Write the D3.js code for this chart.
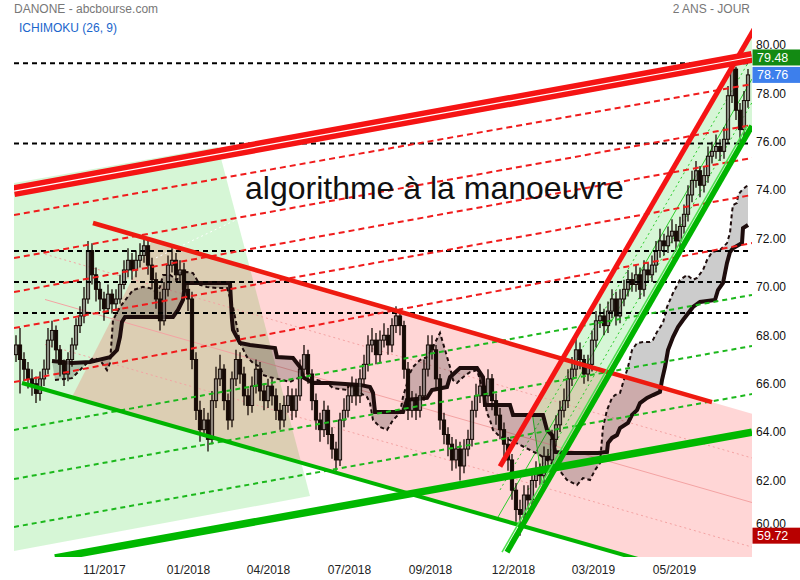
<!DOCTYPE html>
<html><head><meta charset="utf-8">
<script src="https://cdn.jsdelivr.net/npm/d3@7"></script>
<style>body{margin:0;background:#fff}svg{display:block;font-family:"Liberation Sans",Arial,sans-serif}</style>
</head><body><svg id="c" width="800" height="580"></svg>
<script>
// ---- DATA (bar index = aggregated trading periods, price in EUR) ----
const closes = [67.6,67.0,66.6,66.2,66.0,65.6,66.2,66.6,67.8,68.2,
 67.4,66.8,66.4,67.0,67.6,68.4,68.8,69.5,71.5,70.5,
 69.9,69.5,69.1,69.7,69.3,69.5,70.1,70.7,71.1,70.7,
 71.1,71.3,71.7,70.9,70.3,69.5,68.6,69.9,70.9,71.1,
 70.5,70.7,69.9,69.5,67.0,64.9,64.1,64.5,63.7,65.3,
 66.2,66.6,65.3,64.5,66.2,67.0,66.4,65.5,65.1,65.9,
 66.6,65.7,65.3,65.9,65.5,64.9,64.5,65.1,65.5,64.9,
 65.5,66.6,67.2,66.4,65.3,64.5,64.1,64.9,63.9,63.3,
 62.85,64.5,64.9,65.5,65.9,65.5,66.2,66.8,67.6,67.8,
 67.2,67.8,68.0,67.6,68.4,68.8,68.4,66.6,64.9,65.3,
 64.9,65.5,66.6,67.6,67.4,66.2,64.5,63.9,63.5,62.85,
 63.3,62.6,63.3,63.7,64.9,65.5,65.9,65.5,66.2,65.3,
 64.7,64.1,63.5,62.85,61.6,60.8,60.6,61.4,61.2,62.0,
 62.4,62.2,63.0,62.85,63.7,64.3,64.9,65.3,66.2,66.6,
 67.4,67.0,66.4,66.8,67.8,68.6,68.8,68.4,69.0,69.5,
 68.8,69.5,69.9,70.3,70.1,70.5,69.9,70.7,70.5,70.9,
 71.5,71.9,71.7,72.1,72.3,71.9,72.5,73.0,73.8,74.4,
 74.8,74.2,74.6,75.4,75.6,75.8,75.6,76.1,77.9,79.0,
 77.3,76.5,77.7,78.76];
const opens = [67.2,67.6,67.0,66.6,66.2,66.0,65.6,66.2,66.6,67.8,
 68.2,67.4,66.8,66.4,67.0,67.6,68.4,68.8,69.5,71.5,
 70.5,69.9,69.5,69.1,69.7,69.3,69.5,70.1,70.7,71.1,
 70.7,71.1,71.3,71.7,70.9,70.3,69.5,68.6,69.9,70.9,
 71.1,70.5,70.7,69.9,69.5,67.0,64.9,64.1,64.5,63.7,
 65.3,66.2,66.6,65.3,64.5,66.2,67.0,66.4,65.5,65.1,
 65.9,66.6,65.7,65.3,65.9,65.5,64.9,64.5,65.1,65.5,
 64.9,65.5,66.6,67.2,66.4,65.3,64.5,64.1,64.9,63.9,
 63.3,62.85,64.5,64.9,65.5,65.9,65.5,66.2,66.8,67.6,
 67.8,67.2,67.8,68.0,67.6,68.4,68.8,68.4,66.6,64.9,
 65.3,64.9,65.5,66.6,67.6,67.4,66.2,64.5,63.9,63.5,
 62.85,63.3,62.6,63.3,63.7,64.9,65.5,65.9,65.5,66.2,
 65.3,64.7,64.1,63.5,62.85,61.6,60.8,60.6,61.4,61.2,
 62.0,62.4,62.2,63.0,62.85,63.7,64.3,64.9,65.3,66.2,
 66.6,67.4,67.0,66.4,66.8,67.8,68.6,68.8,68.4,69.0,
 69.5,68.8,69.5,69.9,70.3,70.1,70.5,69.9,70.7,70.5,
 70.9,71.5,71.9,71.7,72.1,72.3,71.9,72.5,73.0,73.8,
 74.4,74.8,74.2,74.6,75.4,75.6,75.8,75.6,76.1,77.9,
 79.0,77.3,76.5,77.7];
const highs = [68.0,68.3,67.3,66.9,66.6,66.3,66.5,67.0,68.3,68.6,
 68.4,67.6,67.0,67.3,67.9,68.7,69.2,70.0,71.9,71.8,
 70.8,70.2,69.8,70.1,69.9,69.9,70.5,71.1,71.6,71.4,
 71.5,71.8,72.0,71.9,71.2,70.6,69.8,70.2,71.3,71.6,
 71.4,71.1,71.0,70.2,69.8,67.3,65.3,65.0,64.8,65.7,
 66.7,67.2,66.8,65.6,66.5,67.4,67.3,66.7,65.8,66.3,
 67.0,66.9,66.0,66.2,66.2,65.8,65.2,65.5,65.9,65.8,
 65.8,67.0,67.6,67.4,66.6,65.6,64.8,65.3,65.1,64.2,
 63.6,64.8,65.4,65.9,66.3,66.2,66.6,67.2,68.0,68.3,
 68.1,68.2,68.5,68.3,68.7,69.2,69.1,68.6,66.9,65.7,
 65.6,65.9,67.0,68.0,68.0,67.6,66.4,64.8,64.2,63.8,
 63.7,63.6,63.7,64.1,65.3,66.0,66.5,66.2,66.6,66.4,
 65.6,65.0,64.4,63.8,63.1,61.9,61.2,61.8,61.8,62.4,
 62.8,62.7,63.4,63.3,64.1,64.7,65.3,65.8,66.6,67.1,
 67.9,67.7,67.2,67.2,68.2,69.0,69.3,69.1,69.4,69.9,
 69.8,69.9,70.3,70.7,70.6,70.9,70.8,71.1,71.0,71.3,
 71.9,72.4,72.2,72.5,72.8,72.6,72.9,73.4,74.2,74.8,
 75.2,75.0,75.0,75.8,76.0,76.3,76.1,76.6,78.3,79.25,
 79.1,77.6,78.1,79.0];
const lows = [66.9,65.6,66.1,65.8,65.5,65.2,65.3,65.9,66.4,67.5,
 67.0,66.3,65.9,66.1,66.7,67.4,68.1,68.5,69.3,70.1,
 69.4,69.0,68.6,68.9,68.9,69.0,69.3,69.9,70.4,70.3,
 70.4,70.8,71.0,70.5,69.9,69.1,68.2,68.4,69.6,70.6,
 70.2,70.2,69.6,69.0,66.6,64.5,63.6,63.8,63.2,63.5,
 65.0,65.9,64.9,64.1,64.2,65.9,66.0,65.1,64.7,64.8,
 65.6,65.3,64.9,65.0,65.1,64.5,64.1,64.2,64.8,64.5,
 64.6,65.3,66.3,66.0,64.9,64.1,63.6,63.8,63.5,62.9,
 62.4,62.6,64.2,64.6,65.2,65.1,65.2,65.9,66.5,67.3,
 66.8,66.9,67.5,67.2,67.3,68.1,68.0,66.2,64.5,64.6,
 64.5,64.6,65.3,66.3,67.0,65.8,64.1,63.5,63.0,62.4,
 62.5,62.0,62.3,63.0,63.4,64.6,65.2,65.1,65.2,64.9,
 64.3,63.7,63.0,62.4,61.2,60.3,59.72,60.3,60.8,60.9,
 61.7,61.8,61.9,62.5,62.6,63.4,64.0,64.6,65.0,65.9,
 66.3,66.6,66.0,66.1,66.5,67.5,68.3,68.0,68.1,68.7,
 68.4,68.5,69.2,69.6,69.8,69.8,69.5,69.6,70.2,70.2,
 70.6,71.2,71.3,71.4,71.8,71.5,71.6,72.2,72.7,73.5,
 74.1,73.7,73.9,74.3,75.1,75.3,75.2,75.3,75.9,77.6,
 76.9,76.0,76.2,77.4];

// Ichimoku cloud spans [bar, price]
const spanB = [[9,66.94],[14,66.86],[18.5,66.90],[23.5,67.10],[25.25,67.39],[26,67.93],[26.5,68.55],[27.25,68.76],[39.25,68.76],[40.5,69.05],[41.75,69.46],[42.25,70.16],[53.5,70.16],[54,68.63],[54.25,68.22],[56,67.68],[58.5,67.60],[64.75,67.47],[65.25,67.10],[69.25,67.06],[71,66.69],[71.75,66.27],[74.25,66.03],[78.5,66.03],[86,65.95],[88.5,65.86],[89.25,65.62],[89.75,64.83],[96.75,64.83],[97.75,65.33],[102.75,65.41],[104,65.74],[107.75,65.86],[108.5,66.27],[111,66.65],[115.25,66.65],[116.75,66.27],[117.25,65.12],[123.5,65.12],[124.25,64.71],[131.75,64.71],[132.75,64.09],[134,63.88],[134.75,63.18],[137.75,63.14],[145.5,63.14],[147.75,63.18],[148,63.55],[149,63.76],[150.25,63.88],[151,64.17],[153,64.38],[154,64.71],[155.25,64.91],[156,65.20],[157.75,65.41],[159.25,65.53],[161,65.66],[161.5,66.15],[162.25,66.69],[163,67.39],[164.25,67.93],[165.5,68.34],[166.75,68.63],[169.25,69.17],[171,69.38],[174.75,69.46],[175.5,69.87],[176.75,70.16],[177.75,70.99],[178.5,71.44],[179.25,71.60],[181.5,71.81],[181.75,72.43],[183,72.56]];
const spanA = [[9.75,66.15],[14,66.23],[17.25,66.77],[19.25,67.06],[21,66.98],[22.75,66.56],[23.5,66.86],[24.25,68.63],[26,69.17],[29.25,69.87],[31.75,70.00],[33.5,69.95],[35.25,69.79],[36,70.00],[36.75,70.49],[38.5,70.49],[40.25,70.29],[41,70.57],[42.75,70.62],[44.25,70.57],[46,70.08],[47.75,70.00],[50.25,69.95],[52.75,69.95],[54.25,69.17],[55.25,68.34],[56,67.68],[57.75,67.10],[59.25,66.86],[61,66.69],[61.75,66.36],[63.5,66.27],[66.75,66.15],[68.5,66.07],[71,66.27],[73.5,66.15],[75.25,66.15],[77.75,66.03],[79.25,65.82],[82.75,65.74],[83.5,66.03],[84.25,65.74],[86,65.62],[87.75,65.45],[88.5,65.20],[89.25,64.50],[91,64.21],[92.75,64.09],[94.25,64.50],[96,64.79],[96.75,65.45],[98.5,66.44],[99.25,66.69],[101,66.98],[102.75,67.10],[104.25,67.52],[106,68.10],[106.75,67.68],[108.5,66.69],[109.25,66.15],[110.25,66.03],[111.75,66.27],[113.5,66.48],[115.25,66.56],[116.75,65.74],[117.75,64.79],[118.5,64.50],[119.25,64.09],[121,63.80],[123.5,63.67],[126,63.47],[131,63.05],[133.5,62.76],[135.25,62.55],[137.75,62.02],[140.25,61.81],[141.75,62.10],[143.5,62.02],[144.75,62.43],[146,62.72],[146.75,64.21],[147.75,64.91],[149,65.41],[149.75,65.53],[151,65.62],[151.75,66.03],[153,66.69],[154,67.39],[155.25,67.68],[156.75,67.72],[158.5,67.72],[159.25,67.81],[160.25,68.14],[161.75,68.51],[162.75,69.17],[164.25,69.75],[166,70.29],[167.75,70.49],[169.25,70.29],[170.25,70.37],[171.75,70.70],[172.75,71.11],[174,71.44],[176,71.52],[177.75,71.81],[178.5,72.23],[179,73.09],[179.25,73.38],[180.25,73.47],[180.5,73.80],[181.5,74.00],[183,74.21]];

const xTickBars = [22, 43, 63, 83.25, 103.5, 124.25, 144.25, 164.5];
const xTickLabels = ["11/2017","01/2018","04/2018","07/2018","09/2018","12/2018","03/2019","05/2019"];
const yTicks = [60,62,64,66,68,70,72,74,76,78,80];
const hLevels = [79.24, 75.93, 71.48, 70.20, 68.92];
const redDashLines = [
 [[-0.5,72.97],[184,78.38]], [[-0.5,71.19],[184,76.69]], [[-0.5,69.79],[184,75.33]],
 [[-0.5,68.30],[184,73.80]], [[-0.5,66.07],[184,71.81]]];
const greenDashLines = [
 [[-0.5,60.08],[184,65.57]], [[-0.5,62.06],[184,67.56]], [[-0.5,64.09],[184,69.67]]];
const greenRegion = [[-0.5,74.29],[50.5,75.78],[73.5,61.36],[-0.5,59.09]];
const pinkRegion = [[14,65.45],[34,71.94],[184,64.76],[184,57.41]];
const channelRegion = [[129,64.87],[185.25,80.86],[196,80.86],[196,80.10],[131.75,61.61]];
const pinkInner = [[[7.25,71.35],[184,62.93]], [[7.25,69.48],[184,61.09]], [[7.25,67.62],[184,59.25]]];
const greenWhiteDots = [[[35,71.20],[56,72.85]], [[41,60.10],[69,61.00]]];
const chanMid = [[120.5,60.49],[184,78.59]];
const chanQuarter = [[[121,61.61],[184,79.54]], [[128,61.61],[184,77.62]]];
const chanEdge = [[129,64.87],[131.75,61.61]];
const redDown = [[19.25,72.64],[174,65.24]];
const greenDown = [[1.5,66.03],[184,57.41]];
const greenBase = [[9.75,58.80],[184,64.00]];
const greenUp = [[122.75,59.04],[184,76.65]];
const greenUp2 = [[121.5,59.04],[182.75,76.65]];
const redUp = [[121,62.58],[185.25,80.86]];
const redBand = [[-0.5,73.96],[184,79.50]];
const lastValues = [79.48, 78.76, 59.72];
const lastColors = ["#138a13", "#3d7fec", "#b80000"];

// ---- CHART ----
const svg = d3.select("#c");
const x = d3.scaleLinear().domain([-0.5, 184]).range([14, 752]);
const y = d3.scaleLinear().domain([60, 80]).range([528.9, 44.9]);
const line = d3.line().x(d => x(d[0])).y(d => y(d[1]));

svg.append("defs").append("clipPath").attr("id","clip")
  .append("rect").attr("x",14).attr("y",28).attr("width",738).attr("height",529);
const g = svg.append("g").attr("clip-path","url(#clip)");

function poly(pts, fill){ g.append("path").attr("d", line(pts)+"Z").attr("fill", fill).attr("stroke","none"); }
function seg(pts, stroke, w, dash){
  g.append("path").attr("d", line(pts)).attr("fill","none").attr("stroke",stroke)
   .attr("stroke-width",w).attr("stroke-dasharray",dash||null);
}

poly(greenRegion, "rgba(0,200,0,0.16)");
poly(pinkRegion, "rgba(255,0,0,0.16)");
poly(channelRegion, "rgba(0,200,0,0.16)");

pinkInner.forEach((l,i) => seg(l, "#f4a3a3", 1, i===1 ? null : "2,3"));
greenWhiteDots.forEach(l => seg(l, "#ffffff", 1, "2,3"));
seg(chanMid, "#2ccc2c", 1);
chanQuarter.forEach(l => seg(l, "#2ccc2c", 1, "2,3"));
seg(chanEdge, "#2ccc2c", 1);

// Ichimoku cloud
g.append("path").attr("d", line(spanA.concat(spanB.slice().reverse()))+"Z")
 .attr("fill","rgba(0,0,0,0.2)").attr("stroke","none");
seg(spanB, "#1e0d0d", 4);
seg(spanA, "#1e0d0d", 2, "4,3");

// candles
const idx = d3.range(closes.length);
const cg = g.append("g");
cg.selectAll("line.w").data(idx).join("line")
  .attr("x1", i => x(i)).attr("x2", i => x(i))
  .attr("y1", i => y(highs[i])).attr("y2", i => y(lows[i]))
  .attr("stroke","#160a06").attr("stroke-width",1.3);
cg.selectAll("rect.b").data(idx).join("rect")
  .attr("x", i => x(i)-1.6).attr("width", 3.2)
  .attr("y", i => y(Math.max(opens[i], closes[i])))
  .attr("height", i => Math.max(1, Math.abs(y(opens[i]) - y(closes[i]))))
  .attr("fill", i => closes[i] < opens[i] ? "#160a06" : "rgba(255,255,255,0.3)")
  .attr("stroke", "#160a06").attr("stroke-width", 1);

// dashed levels & fan lines
hLevels.forEach(v => seg([[-0.5,v],[184,v]], "#000", 2, "5,4"));
redDashLines.forEach(l => seg(l, "#f01c1c", 2, "6,4"));
greenDashLines.forEach(l => seg(l, "#1cb81c", 2, "5,4"));

// thick trend lines
seg(redDown, "#ee1a10", 4.5);
seg(greenDown, "#00b400", 4);
seg(greenBase, "#00b800", 7.5);
seg(greenUp2, "#4ee04e", 1.5);
seg(greenUp, "#00b400", 5.5);
seg(redUp, "#f51414", 5);
seg(redBand, "#f51414", 12);
seg(redBand, "#ffffff", 1.2);

// annotation text
svg.append("text").attr("x",245).attr("y",199).attr("font-size",32).attr("fill","#111")
  .text("algorithme à la manoeuvre");

// axes
const xa = svg.append("g").attr("transform","translate(0,557)")
  .call(d3.axisBottom(x).tickValues(xTickBars).tickFormat((d,i)=>xTickLabels[i]).tickSize(0).tickPadding(8));
xa.select(".domain").remove();
xa.selectAll("text").attr("font-size",12).attr("fill","#222").attr("font-family",'"Liberation Sans",Arial,sans-serif');

const ya = svg.append("g").attr("transform","translate(752,0)")
  .call(d3.axisRight(y).tickValues(yTicks).tickFormat(d3.format(".2f")).tickSize(0).tickPadding(4));
ya.select(".domain").remove();
ya.selectAll("text").attr("font-size",12).attr("fill","#111").attr("font-family",'"Liberation Sans",Arial,sans-serif');
// lift the bottom tick label a little so it stays readable above the last-low box
ya.selectAll(".tick").filter(d => d === 60).select("text").attr("dy","-0.15em");

// last value boxes
lastValues.forEach((v,i) => {
  const cy = Math.min(y(v), 536);
  svg.append("rect").attr("x",752.5).attr("y",cy-8).attr("width",48).attr("height",16).attr("fill",lastColors[i]);
  svg.append("text").attr("x",757).attr("y",cy).attr("dy","0.35em").attr("font-size",12.5)
    .attr("fill","#fff").text(d3.format(".2f")(v));
});

// titles
svg.append("text").attr("x",14).attr("y",13).attr("font-size",12).attr("fill","#777").text("DANONE - abcbourse.com");
svg.append("text").attr("x",19).attr("y",32).attr("font-size",12).attr("fill","#1a66cc").text("ICHIMOKU (26, 9)");
svg.append("text").attr("x",750).attr("y",13).attr("font-size",12).attr("fill","#777").attr("text-anchor","end").text("2 ANS - JOUR");
</script></body></html>
